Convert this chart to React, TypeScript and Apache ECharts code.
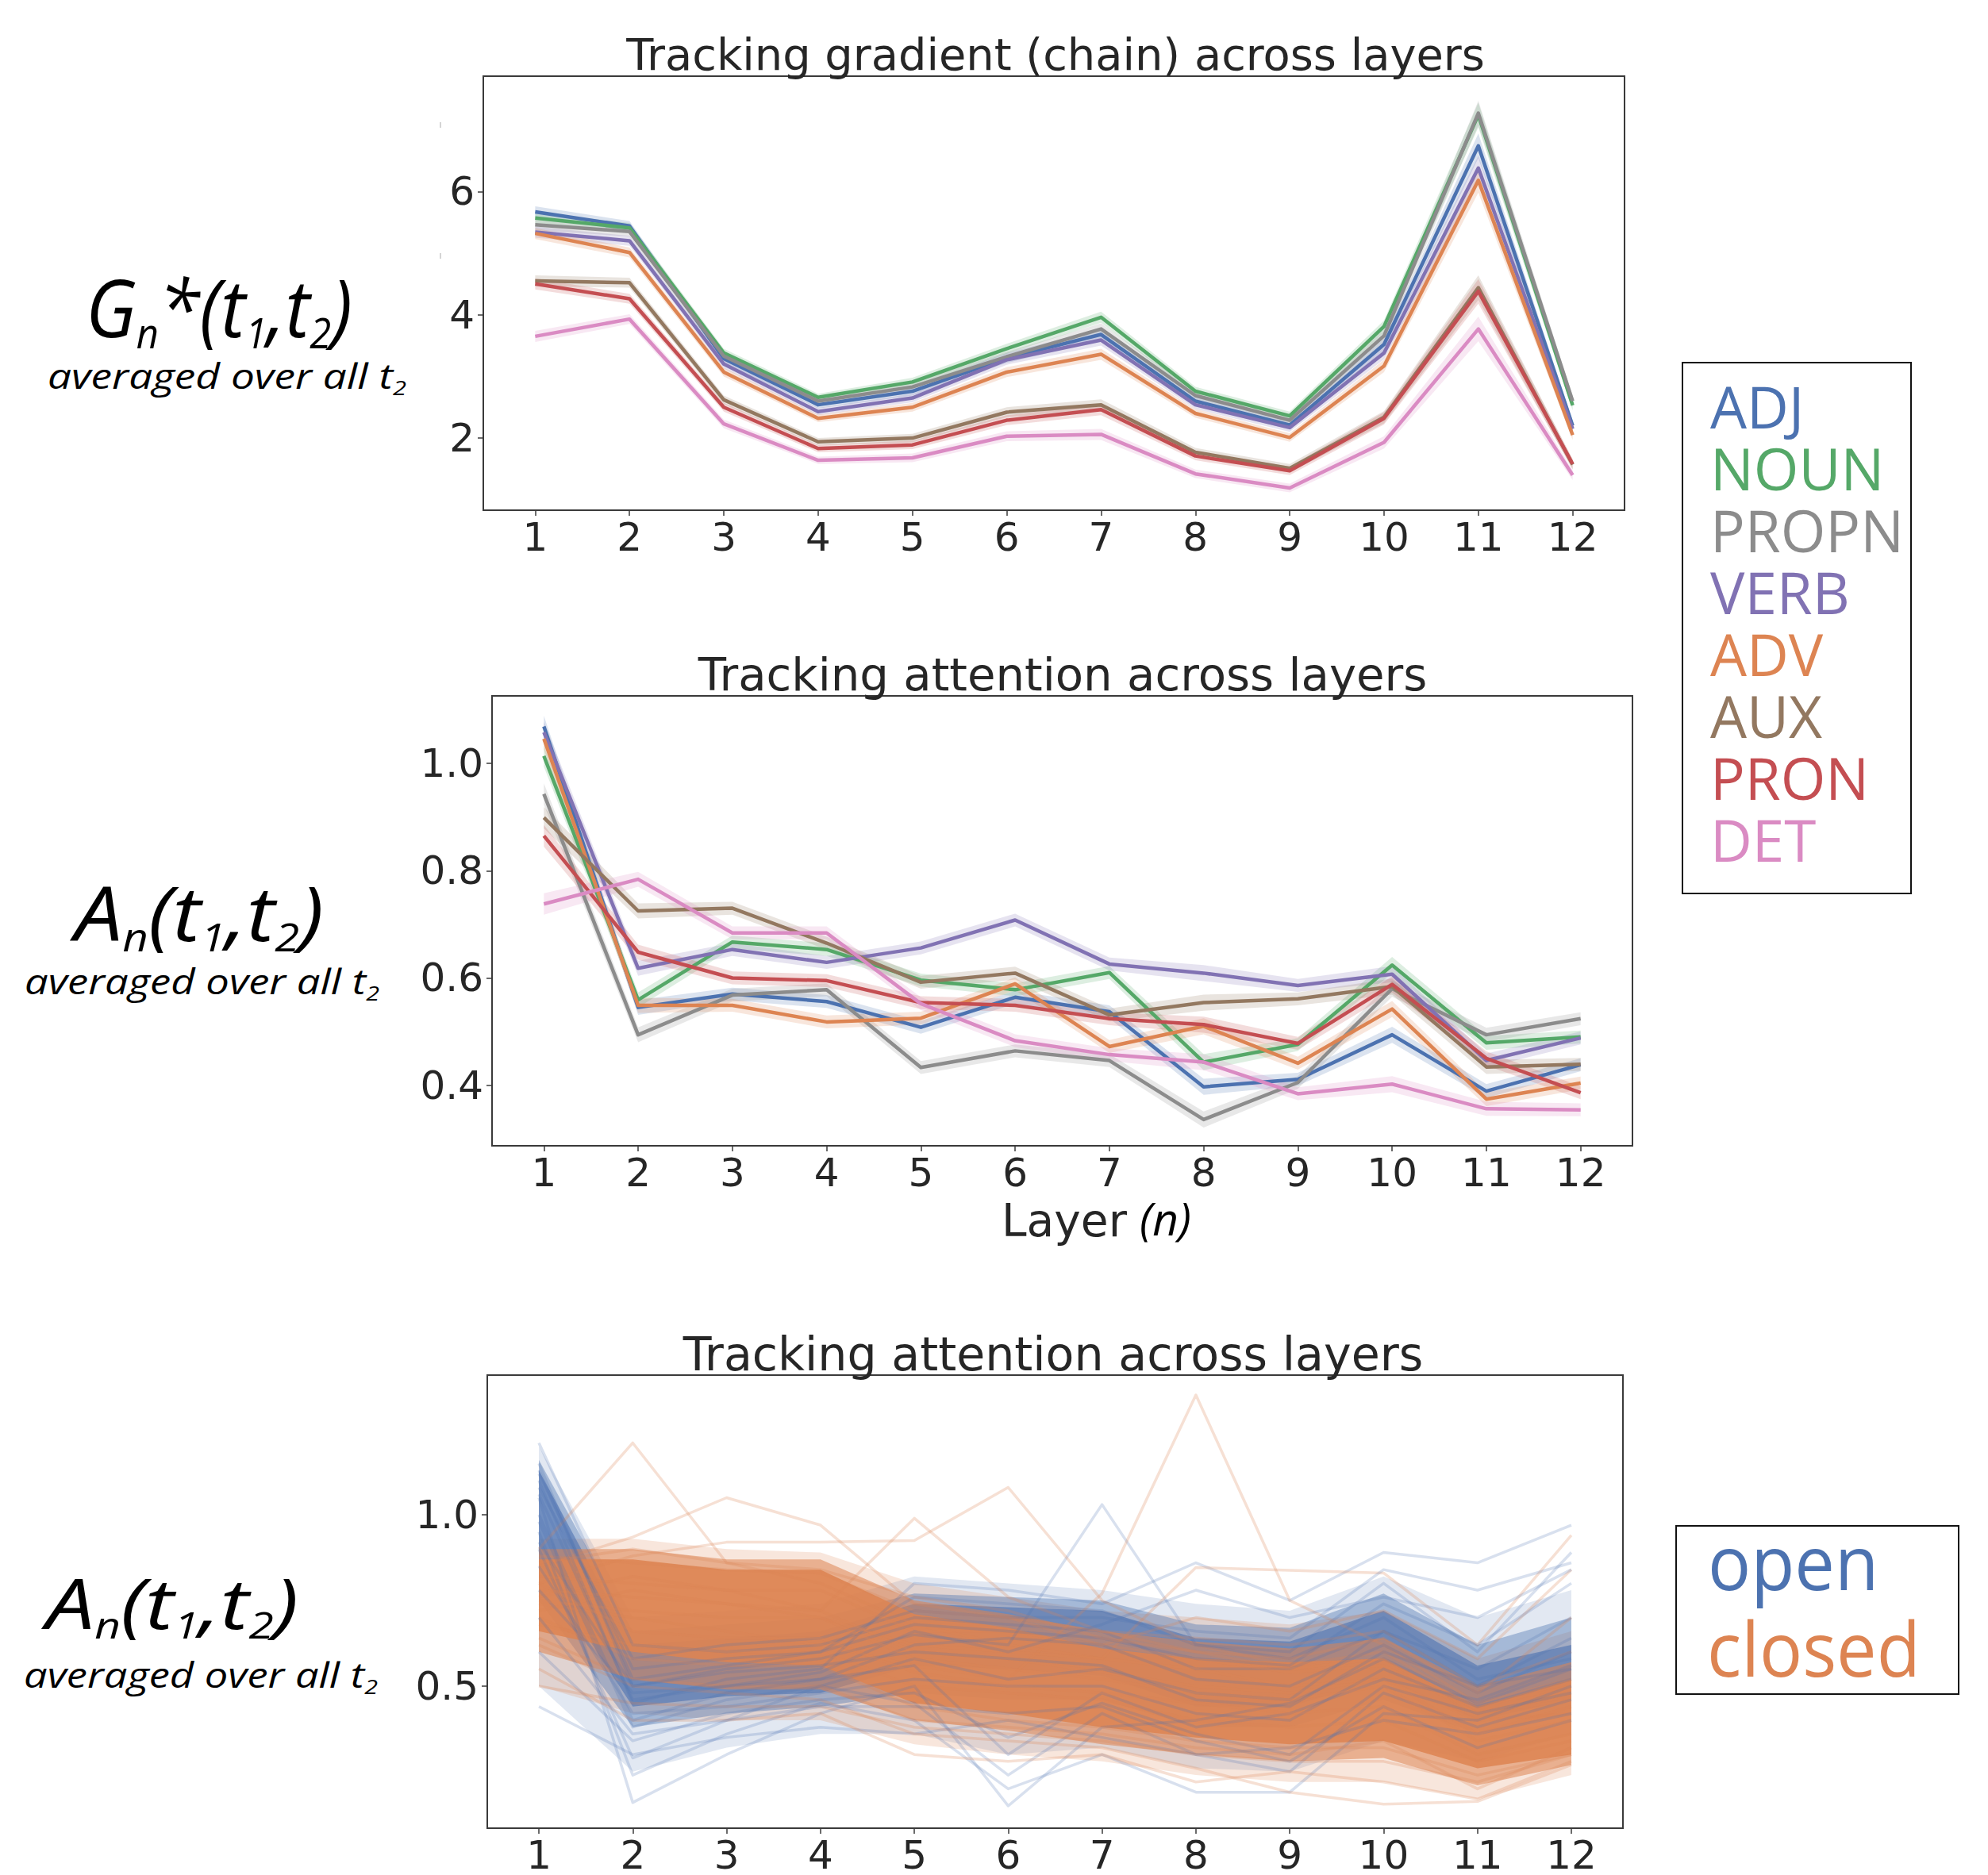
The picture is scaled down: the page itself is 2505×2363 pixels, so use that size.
import React, { useEffect, useRef } from 'react';
import * as echarts from 'echarts';

const W = 2505;
const H = 2363;

// ---------- data ----------
const layers = [1, 2, 3, 4, 5, 6, 7, 8, 9, 10, 11, 12];
const posNames = ['ADJ', 'NOUN', 'PROPN', 'VERB', 'ADV', 'AUX', 'PRON', 'DET'];
const posColors = ['#4C72B0', '#55A868', '#8C8C8C', '#8172B3', '#DD8452', '#937860', '#C44E52', '#DA8BC3'];

// panel 1: gradient (chain)
const gradADJ = [5.67, 5.44, 3.29, 2.54, 2.76, 3.30, 3.68, 2.60, 2.21, 3.52, 6.74, 2.20];
const gradNOUN = [5.57, 5.41, 3.38, 2.66, 2.91, 3.45, 3.96, 2.76, 2.36, 3.81, 7.24, 2.53];
const gradPROPN = [5.46, 5.35, 3.33, 2.60, 2.83, 3.32, 3.77, 2.69, 2.29, 3.66, 7.27, 2.60];
const gradVERB = [5.34, 5.20, 3.20, 2.43, 2.65, 3.27, 3.59, 2.54, 2.17, 3.38, 6.38, 2.15];
const gradADV = [5.32, 5.01, 3.07, 2.32, 2.50, 3.07, 3.36, 2.40, 2.01, 3.17, 6.18, 2.05];
const gradAUX = [4.55, 4.52, 2.62, 1.94, 2.00, 2.42, 2.54, 1.77, 1.51, 2.34, 4.44, 1.57];
const gradPRON = [4.50, 4.26, 2.50, 1.83, 1.89, 2.29, 2.46, 1.71, 1.47, 2.32, 4.38, 1.58];
const gradDET = [3.65, 3.93, 2.23, 1.64, 1.68, 2.03, 2.06, 1.42, 1.19, 1.93, 3.77, 1.40];
const gradCI = [0.09, 0.08, 0.07, 0.06, 0.07, 0.08, 0.09, 0.07, 0.07, 0.10, 0.20, 0.08];
const gradTicks = [2, 4, 6];

// panel 2: attention
const attADJ = [1.069, 0.545, 0.570, 0.556, 0.508, 0.564, 0.537, 0.397, 0.411, 0.494, 0.389, 0.438];
const attNOUN = [1.014, 0.559, 0.667, 0.653, 0.596, 0.578, 0.610, 0.443, 0.476, 0.624, 0.479, 0.490];
const attPROPN = [0.943, 0.494, 0.568, 0.578, 0.433, 0.464, 0.446, 0.336, 0.405, 0.580, 0.494, 0.524];
const attVERB = [1.058, 0.618, 0.653, 0.629, 0.656, 0.708, 0.626, 0.609, 0.586, 0.607, 0.446, 0.488];
const attADV = [1.046, 0.549, 0.549, 0.518, 0.525, 0.589, 0.472, 0.510, 0.441, 0.542, 0.374, 0.404];
const attAUX = [0.899, 0.725, 0.730, 0.665, 0.592, 0.609, 0.531, 0.554, 0.561, 0.584, 0.434, 0.439];
const attPRON = [0.865, 0.648, 0.600, 0.595, 0.554, 0.549, 0.524, 0.513, 0.478, 0.588, 0.450, 0.386];
const attDET = [0.738, 0.784, 0.684, 0.684, 0.552, 0.483, 0.457, 0.443, 0.384, 0.402, 0.356, 0.354];
const attCI = [0.02, 0.014, 0.012, 0.012, 0.012, 0.012, 0.012, 0.015, 0.012, 0.015, 0.013, 0.012];
const attTicks = [0.4, 0.6, 0.8, 1.0];

// panel 3: open vs closed class, spread of the many word lines (outer / middle / dense core)
const openOuterLow = [0.50, 0.25, 0.32, 0.36, 0.36, 0.30, 0.32, 0.26, 0.25, 0.34, 0.28, 0.36];
const openOuterHigh = [1.20, 0.70, 0.72, 0.74, 0.82, 0.80, 0.78, 0.74, 0.72, 0.82, 0.70, 0.78];
const openMidLow = [0.75, 0.38, 0.42, 0.44, 0.48, 0.46, 0.46, 0.38, 0.38, 0.46, 0.36, 0.42];
const openMidHigh = [1.16, 0.66, 0.68, 0.70, 0.77, 0.76, 0.75, 0.68, 0.67, 0.77, 0.62, 0.70];
const openCoreLow = [0.86, 0.44, 0.47, 0.48, 0.56, 0.55, 0.53, 0.44, 0.44, 0.52, 0.40, 0.46];
const openCoreHigh = [1.13, 0.62, 0.64, 0.66, 0.74, 0.73, 0.72, 0.64, 0.63, 0.72, 0.56, 0.62];
const closedOuterLow = [0.50, 0.42, 0.40, 0.40, 0.33, 0.30, 0.28, 0.24, 0.22, 0.22, 0.17, 0.24];
const closedOuterHigh = [0.93, 0.93, 0.90, 0.89, 0.80, 0.76, 0.72, 0.70, 0.68, 0.72, 0.58, 0.66];
const closedMidLow = [0.60, 0.52, 0.49, 0.49, 0.40, 0.37, 0.33, 0.30, 0.28, 0.29, 0.21, 0.27];
const closedMidHigh = [0.90, 0.90, 0.87, 0.87, 0.75, 0.71, 0.66, 0.63, 0.61, 0.64, 0.50, 0.57];
const closedCoreLow = [0.66, 0.60, 0.57, 0.56, 0.45, 0.42, 0.38, 0.35, 0.33, 0.34, 0.26, 0.30];
const closedCoreHigh = [0.87, 0.87, 0.84, 0.84, 0.71, 0.67, 0.61, 0.58, 0.57, 0.58, 0.44, 0.52];
// panel 3: individual open-class words
const openA = [1.21, 0.62, 0.60, 0.62, 0.70, 0.68, 0.66, 0.55, 0.55, 0.66, 0.50, 0.55];
const openB = [1.15, 0.50, 0.55, 0.58, 0.65, 0.62, 1.03, 0.62, 0.58, 0.70, 0.52, 0.58];
const openC = [1.10, 0.45, 0.52, 0.55, 0.80, 0.78, 0.74, 0.86, 0.75, 0.89, 0.86, 0.97];
const openD = [1.05, 0.16, 0.30, 0.42, 0.50, 0.15, 0.38, 0.40, 0.45, 0.58, 0.45, 0.55];
const openE = [0.95, 0.24, 0.36, 0.45, 0.40, 0.20, 0.30, 0.19, 0.19, 0.42, 0.40, 0.50];
const openF = [0.90, 0.29, 0.40, 0.50, 0.45, 0.24, 0.42, 0.30, 0.25, 0.48, 0.38, 0.46];
const openG = [0.44, 0.30, 0.35, 0.38, 0.36, 0.40, 0.35, 0.30, 0.32, 0.40, 0.36, 0.42];
const openH = [0.60, 0.34, 0.42, 0.46, 0.48, 0.35, 0.45, 0.36, 0.30, 0.50, 0.42, 0.48];
const openI = [1.12, 0.55, 0.58, 0.60, 0.76, 0.74, 0.72, 0.62, 0.60, 0.80, 0.60, 0.89];
const openJ = [1.08, 0.58, 0.62, 0.64, 0.72, 0.70, 0.70, 0.66, 0.64, 0.84, 0.78, 0.86];
const openK = [1.00, 0.40, 0.48, 0.52, 0.62, 0.64, 0.62, 0.52, 0.50, 0.62, 0.48, 0.60];
const openL = [0.98, 0.38, 0.46, 0.50, 0.58, 0.52, 0.55, 0.48, 0.46, 0.66, 0.55, 0.70];
const openM = [0.85, 0.42, 0.44, 0.48, 0.52, 0.50, 0.50, 0.42, 0.40, 0.55, 0.44, 0.52];
const openN = [0.70, 0.36, 0.40, 0.44, 0.44, 0.42, 0.44, 0.34, 0.28, 0.44, 0.32, 0.40];
const openO = [1.13, 0.52, 0.56, 0.60, 0.68, 0.66, 0.64, 0.58, 0.56, 0.74, 0.62, 0.80];
const openP = [0.78, 0.48, 0.50, 0.52, 0.56, 0.30, 0.48, 0.38, 0.42, 0.52, 0.46, 0.56];
const openQ = [1.06, 0.46, 0.50, 0.54, 0.66, 0.60, 0.68, 0.78, 0.70, 0.76, 0.70, 0.84];
const openR = [0.92, 0.50, 0.54, 0.56, 0.60, 0.58, 0.56, 0.46, 0.44, 0.60, 0.50, 0.64];
// panel 3: individual closed-class words
const closedA = [0.90, 1.21, 0.86, 0.80, 0.68, 0.62, 0.58, 0.55, 0.50, 0.52, 0.40, 0.42];
const closedB = [0.85, 0.935, 1.05, 0.97, 0.74, 0.70, 0.62, 0.58, 0.54, 0.56, 0.42, 0.46];
const closedC = [0.80, 0.88, 0.92, 0.92, 0.925, 1.08, 0.75, 0.62, 0.56, 0.60, 0.44, 0.50];
const closedD = [0.76, 0.82, 0.78, 0.72, 0.99, 0.76, 0.66, 0.60, 0.55, 0.58, 0.42, 0.48];
const closedE = [0.74, 0.70, 0.66, 0.62, 0.56, 0.52, 0.77, 1.35, 0.75, 0.62, 0.45, 0.52];
const closedF = [0.72, 0.78, 0.74, 0.70, 0.62, 0.60, 0.58, 0.846, 0.838, 0.83, 0.62, 0.94];
const closedG = [0.62, 0.50, 0.48, 0.46, 0.36, 0.34, 0.32, 0.26, 0.19, 0.155, 0.163, 0.27];
const closedH = [0.55, 0.40, 0.40, 0.42, 0.30, 0.28, 0.30, 0.22, 0.25, 0.22, 0.17, 0.28];
const closedI = [0.50, 0.45, 0.44, 0.44, 0.38, 0.36, 0.34, 0.30, 0.28, 0.28, 0.22, 0.30];
const closedJ = [0.88, 0.86, 0.84, 0.83, 0.72, 0.70, 0.66, 0.64, 0.62, 0.66, 0.50, 0.60];
const closedK = [0.82, 0.80, 0.78, 0.78, 0.66, 0.66, 0.62, 0.70, 0.66, 0.72, 0.58, 0.84];
const closedL = [0.68, 0.62, 0.60, 0.60, 0.50, 0.48, 0.46, 0.40, 0.38, 0.40, 0.28, 0.34];
const closedM = [0.70, 0.58, 0.56, 0.56, 0.44, 0.40, 0.38, 0.34, 0.32, 0.32, 0.24, 0.30];
const closedN = [0.78, 0.76, 0.74, 0.72, 0.60, 0.58, 0.54, 0.50, 0.48, 0.52, 0.36, 0.44];
const closedO = [0.64, 0.52, 0.50, 0.50, 0.40, 0.38, 0.36, 0.32, 0.30, 0.34, 0.20, 0.32];
const closedP = [0.86, 0.90, 0.86, 0.84, 0.76, 0.72, 0.64, 0.60, 0.58, 0.64, 0.48, 0.70];
const closedQ = [0.75, 0.72, 0.70, 0.70, 0.58, 0.55, 0.52, 0.48, 0.46, 0.50, 0.34, 0.40];
const closedR = [0.80, 0.66, 0.64, 0.64, 0.54, 0.50, 0.48, 0.45, 0.42, 0.44, 0.30, 0.36];
const spreadTicks = [0.5, 1.0];
const classNames = ['open', 'closed'];
const classColors = ['#4C72B0', '#DD8452'];

const gradSeries = [gradADJ, gradNOUN, gradPROPN, gradVERB, gradADV, gradAUX, gradPRON, gradDET];
const attSeries = [attADJ, attNOUN, attPROPN, attVERB, attADV, attAUX, attPRON, attDET];
const openLines = [openA, openB, openC, openD, openE, openF, openG, openH, openI, openJ, openK, openL, openM, openN, openO, openP, openQ, openR];
const closedLines = [closedA, closedB, closedC, closedD, closedE, closedF, closedG, closedH, closedI, closedJ, closedK, closedL, closedM, closedN, closedO, closedP, closedQ, closedR];

// ---------- text helpers ----------
const SANS = 'DejaVu Sans';
const LBL = 'Open Sans';
let ctx: CanvasRenderingContext2D | null = null;
function getCtx() {
  if (!ctx) ctx = document.createElement('canvas').getContext('2d');
  return ctx!;
}
function cssFont(size: number, family: string, italic: boolean) {
  return `${italic ? 'italic ' : ''}${size}px "${family}"`;
}
function measureW(text: string, size: number, family: string, italic: boolean) {
  const c = getCtx();
  c.font = cssFont(size, family, italic);
  return c.measureText(text).width;
}
function centralOffset(size: number, family: string, italic: boolean) {
  const c = getCtx();
  c.font = cssFont(size, family, italic);
  const m: any = c.measureText('Hg');
  if (m.fontBoundingBoxAscent !== undefined) {
    return (m.fontBoundingBoxAscent - m.fontBoundingBoxDescent) / 2;
  }
  return size * 0.35;
}
function fitSize(text: string, family: string, italic: boolean, width: number) {
  return (100 * width) / measureW(text, 100, family, italic);
}
function textEl(text: string, x: number, baseline: number, size: number, family: string, color: string, italic: boolean, align = 'left', sx = 1) {
  return {
    type: 'text',
    x,
    y: baseline - centralOffset(size, family, italic),
    scaleX: sx,
    silent: true,
    style: {
      text,
      fontSize: size,
      fontFamily: family,
      fontStyle: italic ? 'italic' : 'normal',
      fill: color,
      align,
      textAlign: align,
      verticalAlign: 'middle',
      textVerticalAlign: 'middle',
    },
  };
}
function squeezed(text: string, left: number, baseline: number, size: number, width: number, family: string, color: string, italic: boolean) {
  const sx = width / measureW(text, size, family, italic);
  return textEl(text, left, baseline, size, family, color, italic, 'left', sx);
}
type Piece = { t: string; sub?: boolean };
function composite(pieces: Piece[], left: number, baseline: number, size: number, width: number, subRatio: number, subDy: number, family: string, italic: boolean, color: string) {
  let w = 0;
  pieces.forEach((p) => (w += measureW(p.t, p.sub ? size * subRatio : size, family, italic)));
  const sx = width / w;
  let x = left;
  const out: any[] = [];
  pieces.forEach((p) => {
    const s = p.sub ? size * subRatio : size;
    out.push(textEl(p.t, x, baseline + (p.sub ? size * subDy : 0), s, family, color, italic, 'left', sx));
    x += measureW(p.t, s, family, italic) * sx;
  });
  return out;
}

// ---------- chart helpers ----------
const GRIDS = [
  { left: 609, top: 96, width: 1438, height: 547 },
  { left: 620, top: 877, width: 1437, height: 567 },
  { left: 614, top: 1733, width: 1431, height: 577 },
];
const YR = [
  [0.83, 7.87],
  [0.287, 1.126],
  [0.085, 1.408],
];
const YTICKS = [gradTicks, attTicks, spreadTicks];
const TICK_FS = 50;

function pts(vals: number[]) {
  return layers.map((l, i) => [l, vals[i]]);
}
function line(gi: number, vals: number[], color: string, width: number, opacity: number, z: number) {
  return {
    type: 'line',
    xAxisIndex: gi,
    yAxisIndex: gi,
    data: pts(vals),
    symbol: 'none',
    showSymbol: false,
    silent: true,
    z,
    lineStyle: { color, width, opacity, join: 'round' },
    itemStyle: { color },
    emphasis: { disabled: true },
  };
}
// filled band between two value lists, drawn through the axes' scales
function band(gi: number, low: number[], high: number[], color: string, opacity: number, z: number) {
  return {
    type: 'custom',
    xAxisIndex: gi,
    yAxisIndex: gi,
    silent: true,
    z,
    clip: true,
    data: layers.map((l, i) => [l, low[i], high[i]]),
    encode: { x: 0, y: [1, 2] },
    renderItem: (params: any, api: any) => {
      if (params.dataIndex !== 0) return null;
      const top = layers.map((l, i) => api.coord([l, high[i]]));
      const bot = layers.map((l, i) => api.coord([l, low[i]])).reverse();
      return {
        type: 'polygon',
        shape: { points: top.concat(bot) },
        style: { fill: color, opacity },
      };
    },
  };
}

function buildOption() {
  const grid = GRIDS.map((g) => ({
    ...g,
    show: true,
    borderColor: '#3a3a3a',
    borderWidth: 2,
    backgroundColor: 'transparent',
  }));
  const xAxis = GRIDS.map((_, gi) => ({
    type: 'value',
    gridIndex: gi,
    min: 0.45,
    max: 12.55,
    axisLine: { show: false },
    splitLine: { show: false },
    axisTick: { show: true, length: 7, customValues: layers, lineStyle: { color: '#3a3a3a', width: 1.5 } },
    axisLabel: { customValues: layers, fontSize: TICK_FS, fontFamily: SANS, color: '#262626', margin: 9 },
  }));
  const yAxis = GRIDS.map((_, gi) => ({
    type: 'value',
    gridIndex: gi,
    min: YR[gi][0],
    max: YR[gi][1],
    axisLine: { show: false },
    splitLine: { show: false },
    axisTick: { show: true, length: 7, customValues: YTICKS[gi], lineStyle: { color: '#3a3a3a', width: 1.5 } },
    axisLabel: {
      customValues: YTICKS[gi],
      fontSize: TICK_FS,
      fontFamily: SANS,
      color: '#262626',
      margin: 11,
      formatter: (v: number) => (gi === 0 ? String(Math.round(v)) : v.toFixed(1)),
    },
  }));

  const series: any[] = [];
  // panel 1 and 2 bands + lines
  [gradSeries, attSeries].forEach((group, gi) => {
    const ci = gi === 0 ? gradCI : attCI;
    group.forEach((vals, i) => {
      const low = vals.map((v, k) => v - ci[k]);
      const high = vals.map((v, k) => v + ci[k]);
      series.push(band(gi, low, high, posColors[i], 0.2, 1));
    });
    group.forEach((vals, i) => series.push(line(gi, vals, posColors[i], 4.5, 1, 2)));
  });
  // panel 3
  const [blue, orange] = classColors;
  series.push(band(2, openOuterLow, openOuterHigh, blue, 0.16, 1));
  series.push(band(2, closedOuterLow, closedOuterHigh, orange, 0.2, 1));
  series.push(band(2, openMidLow, openMidHigh, blue, 0.4, 1));
  series.push(band(2, openCoreLow, openCoreHigh, blue, 0.6, 1));
  series.push(band(2, closedMidLow, closedMidHigh, orange, 0.55, 1));
  series.push(band(2, closedCoreLow, closedCoreHigh, orange, 0.88, 1));
  const n = Math.max(openLines.length, closedLines.length);
  for (let i = 0; i < n; i++) {
    if (openLines[i]) series.push(line(2, openLines[i], blue, 3.5, 0.22, 2));
    if (closedLines[i]) series.push(line(2, closedLines[i], orange, 3.5, 0.25, 2));
  }

  // ---------- graphic texts ----------
  const g: any[] = [];
  const titleCol = '#262626';
  const t1 = 'Tracking gradient (chain) across layers';
  const t2 = 'Tracking attention across layers';
  g.push(textEl(t1, 1330, 88, fitSize(t1, SANS, false, 1082), SANS, titleCol, false, 'center'));
  g.push(textEl(t2, 1339, 870, fitSize(t2, SANS, false, 919), SANS, titleCol, false, 'center'));
  g.push(textEl(t2, 1327, 1727, fitSize(t2, SANS, false, 933), SANS, titleCol, false, 'center'));

  // x label of panel 2
  g.push(textEl('Layer', 1262, 1558, fitSize('Layer', SANS, false, 158), SANS, titleCol, false));
  g.push(squeezed('(n)', 1436, 1558, 56, 65, LBL, '#000', true));

  // left labels
  const gLabel: Piece[] = [{ t: 'G' }, { t: 'n', sub: true }, { t: '*(t' }, { t: '1', sub: true }, { t: ',t' }, { t: '2', sub: true }, { t: ')' }];
  const aLabel: Piece[] = [{ t: 'A' }, { t: 'n', sub: true }, { t: '(t' }, { t: '1', sub: true }, { t: ',t' }, { t: '2', sub: true }, { t: ')' }];
  const avg: Piece[] = [{ t: 'averaged over all t' }, { t: '2', sub: true }];
  g.push(...composite(gLabel, 108, 425, 101, 336, 0.52, 0.14, LBL, true, '#000'));
  g.push(...composite(avg, 60, 490, 43, 452, 0.58, 0.2, LBL, true, '#000'));
  g.push(...composite(aLabel, 94, 1186, 95, 314, 0.52, 0.14, LBL, true, '#000'));
  g.push(...composite(avg, 31, 1253, 43, 447, 0.58, 0.2, LBL, true, '#000'));
  g.push(...composite(aLabel, 58, 2053, 88, 318, 0.52, 0.14, LBL, true, '#000'));
  g.push(...composite(avg, 30, 2127, 43, 446, 0.58, 0.2, LBL, true, '#000'));

  // legend 1
  g.push({ type: 'rect', silent: true, shape: { x: 2120, y: 457, width: 288, height: 669 }, style: { fill: '#fff', stroke: '#111', lineWidth: 2 } });
  const lfs = 74;
  const lsx = 244 / measureW('PROPN', lfs, LBL, false);
  posNames.forEach((nm, i) => g.push(textEl(nm, 2155, 540 + 78 * i, lfs, LBL, posColors[i], false, 'left', lsx)));
  // legend 2
  g.push({ type: 'rect', silent: true, shape: { x: 2112, y: 1923, width: 356, height: 212 }, style: { fill: '#fff', stroke: '#111', lineWidth: 2 } });
  const cfs = 95;
  const csx = 269 / measureW('closed', cfs, LBL, false);
  g.push(textEl(classNames[0], 2152, 2004, cfs, LBL, classColors[0], false, 'left', csx));
  g.push(textEl(classNames[1], 2151, 2113, cfs, LBL, classColors[1], false, 'left', csx));

  // stray marks left of the top panel
  g.push({ type: 'line', silent: true, shape: { x1: 555, y1: 154, x2: 555, y2: 161 }, style: { stroke: '#aaa', lineWidth: 1 } });
  g.push({ type: 'line', silent: true, shape: { x1: 555, y1: 319, x2: 555, y2: 326 }, style: { stroke: '#aaa', lineWidth: 1 } });

  return {
    animation: false,
    backgroundColor: '#ffffff',
    grid,
    xAxis,
    yAxis,
    series,
    graphic: { elements: g },
  };
}

export default function App() {
  const ref = useRef<HTMLDivElement>(null);
  useEffect(() => {
    document.body.style.margin = '0';
    const chart = echarts.init(ref.current!, null, { renderer: 'svg', width: W, height: H });
    chart.setOption(buildOption() as any);
    return () => chart.dispose();
  }, []);
  return <div ref={ref} style={{ width: W, height: H }} />;
}
